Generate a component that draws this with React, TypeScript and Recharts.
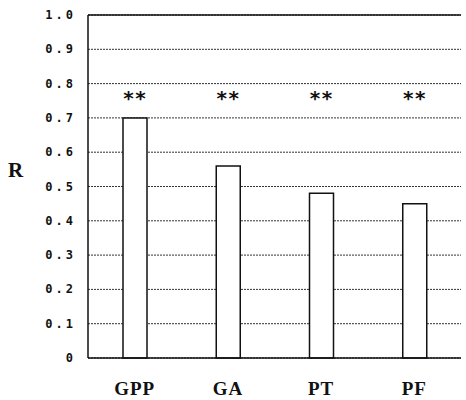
import { ComposedChart, Bar, Scatter, XAxis, YAxis, CartesianGrid, ReferenceLine } from "recharts";

const categories = ["GPP", "GA", "PT", "PF"];
const rValues = [0.7, 0.56, 0.48, 0.45];
const markLevel = [0.76, 0.76, 0.76, 0.76];
const yTicks = [0, 0.1, 0.2, 0.3, 0.4, 0.5, 0.6, 0.7, 0.8, 0.9, 1.0];

const data = categories.map((name, i) => ({ name, r: rValues[i], mark: markLevel[i] }));

const formatTick = (v: number) => (v === 0 ? "0" : v.toFixed(1));

const YTick = (props: any) => {
  const { x, y, payload } = props;
  return (
    <text
      x={x + 3}
      y={y}
      dy={4}
      textAnchor="end"
      fontFamily="DejaVu Sans Mono"
      fontWeight="bold"
      fontSize={12}
      letterSpacing={3}
      fill="#111"
    >
      {formatTick(payload.value)}
    </text>
  );
};

const XTick = (props: any) => {
  const { x, y, payload } = props;
  return (
    <text
      x={x}
      y={y}
      dy={29}
      textAnchor="middle"
      fontFamily="Liberation Serif"
      fontWeight="bold"
      fontSize={19}
      letterSpacing={1}
      fill="#111"
    >
      {payload.value}
    </text>
  );
};

// significance marks drawn as "**" above each bar
const StarMark = (props: any) => {
  const { cx, cy } = props;
  return (
    <text
      x={cx}
      y={cy}
      dy={8}
      textAnchor="middle"
      fontFamily="DejaVu Sans Mono"
      fontWeight="bold"
      fontSize={20}
      fill="#111"
    >
      **
    </text>
  );
};

export default function App() {
  return (
    <div style={{ position: "absolute", left: 0, top: 0, width: 466, height: 400, background: "#fff" }}>
      <ComposedChart width={466} height={400} data={data} margin={{ top: 15, right: 5, bottom: 0, left: 0 }}>
        <CartesianGrid vertical={false} stroke="#333" strokeDasharray="2 1" />
        <XAxis
          dataKey="name"
          height={42}
          tick={<XTick />}
          tickLine={false}
          axisLine={{ stroke: "#111", strokeWidth: 1.5 }}
        />
        <YAxis
          domain={[0, 1]}
          ticks={yTicks}
          width={88}
          tick={<YTick />}
          tickLine={false}
          tickSize={0}
          tickMargin={15}
          axisLine={{ stroke: "#111", strokeWidth: 1.5 }}
          label={{
            value: "R",
            position: "insideLeft",
            dx: 3,
            dy: -17,
            style: { fontFamily: "Liberation Serif", fontWeight: "bold", fontSize: 21, fill: "#111" },
          }}
        />
        <ReferenceLine y={1} stroke="#111" strokeWidth={1.5} />
        <Bar dataKey="r" barSize={24} fill="#fff" stroke="#111" strokeWidth={1.5} isAnimationActive={false} />
        <Scatter dataKey="mark" shape={<StarMark />} isAnimationActive={false} />
      </ComposedChart>
    </div>
  );
}
